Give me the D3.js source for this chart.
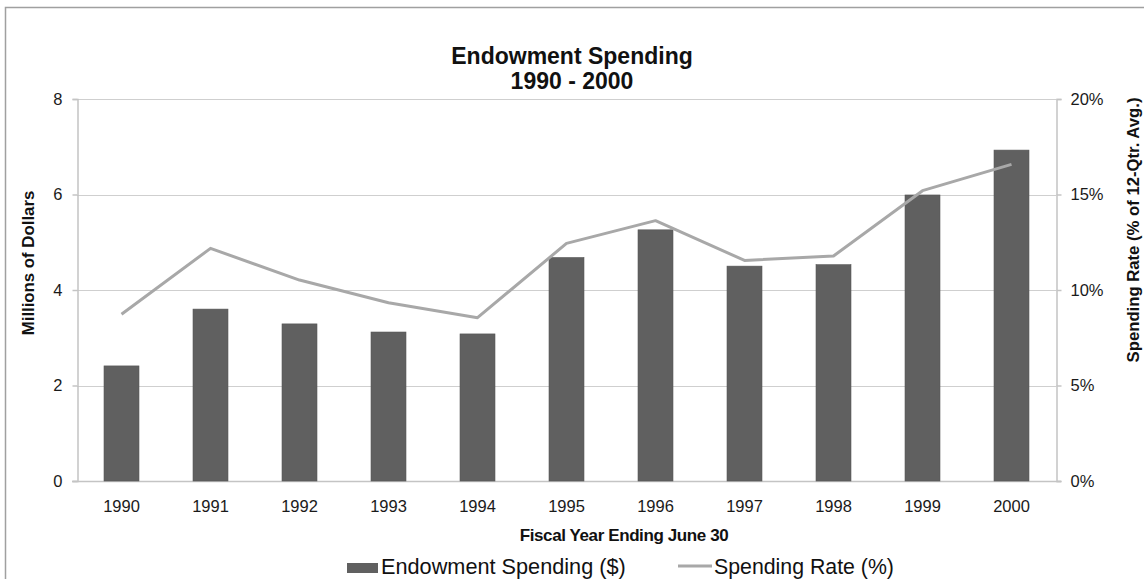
<!DOCTYPE html>
<html>
<head>
<meta charset="utf-8">
<script src="https://cdn.jsdelivr.net/npm/d3@7"></script>
<style>
  html, body { margin: 0; padding: 0; background: #fff; }
  svg { display: block; font-family: "Liberation Sans", Arial, sans-serif; }
</style>
</head>
<body>
<svg id="chart" width="1144" height="579"></svg>
<script>
const years = ["1990","1991","1992","1993","1994","1995","1996","1997","1998","1999","2000"];
const spending = [2.41, 3.60, 3.29, 3.12, 3.08, 4.68, 5.26, 4.50, 4.53, 5.99, 6.93];
const rate = [8.73, 12.18, 10.52, 9.33, 8.55, 12.44, 13.63, 11.55, 11.78, 15.2, 16.58];
const leftTicks = [0, 2, 4, 6, 8];
const rightTicks = [0, 5, 10, 15, 20];
const titleLines = ["Endowment Spending", "1990 - 2000"];

const svg = d3.select("#chart");
const m = { left: 77, right: 1056, top: 99, bottom: 481 };

// outer frame
svg.append("rect").attr("x", 5.5).attr("y", 7.5).attr("width", 1160).attr("height", 600)
  .attr("fill", "none").attr("stroke", "#a0a0a0").attr("stroke-width", 1.5);

const x = d3.scaleBand().domain(years).range([m.left, m.right]).paddingInner(0.607).paddingOuter(0.3035);
const yL = d3.scaleLinear().domain([0, 8]).range([m.bottom, m.top]);
const yR = d3.scaleLinear().domain([0, 20]).range([m.bottom, m.top]);

// gridlines
svg.append("g").selectAll("line").data(leftTicks.filter(d => d > 0)).join("line")
  .attr("x1", m.left).attr("x2", m.right)
  .attr("y1", d => Math.round(yL(d)) + 0.5).attr("y2", d => Math.round(yL(d)) + 0.5)
  .attr("stroke", "#cfcfcf").attr("stroke-width", 1);

const tickFont = 16.5;
// left axis
const axL = svg.append("g").attr("transform", `translate(${m.left + 0.5},0)`)
  .call(d3.axisLeft(yL).tickValues(leftTicks).tickSize(5).tickPadding(10).tickFormat(d3.format("d")));
// right axis
const axR = svg.append("g").attr("transform", `translate(${m.right + 0.5},0)`)
  .call(d3.axisRight(yR).tickValues(rightTicks).tickSize(5).tickPadding(9).tickFormat(d => d + "%"));
// bottom axis
const axB = svg.append("g").attr("transform", `translate(0,${m.bottom + 0.5})`)
  .call(d3.axisBottom(x).tickSize(0).tickPadding(19));
axB.select(".domain").attr("d", `M${m.left - 5},0H${m.right + 5}`);

[axL, axR, axB].forEach(a => {
  a.selectAll(".domain").attr("stroke", "#c4c4c4").attr("stroke-width", 1.5);
  a.selectAll(".tick line").attr("stroke", "#c4c4c4").attr("stroke-width", 1.5);
  a.selectAll("text").attr("font-size", tickFont).attr("fill", "#1a1a1a")
    .attr("font-family", "'Liberation Sans', Arial, sans-serif");
});

// bars
svg.append("g").selectAll("rect").data(years).join("rect")
  .attr("x", d => x(d)).attr("width", x.bandwidth())
  .attr("y", (d, i) => yL(spending[i])).attr("height", (d, i) => m.bottom - yL(spending[i]))
  .attr("fill", "#606060").attr("stroke", "#555").attr("stroke-width", 0.6);

// line
const line = d3.line().x((d, i) => x(years[i]) + x.bandwidth() / 2).y(d => yR(d));
svg.append("path").datum(rate).attr("d", line)
  .attr("fill", "none").attr("stroke", "#a8a8a8").attr("stroke-width", 3).attr("stroke-linejoin", "round");

// title
svg.append("text").attr("x", 572).attr("y", 64).attr("text-anchor", "middle")
  .attr("font-size", 23).attr("font-weight", "bold").attr("fill", "#111").text(titleLines[0]);
svg.append("text").attr("x", 572).attr("y", 89).attr("text-anchor", "middle")
  .attr("font-size", 23).attr("font-weight", "bold").attr("fill", "#111").text(titleLines[1]);

// axis titles
svg.append("text").attr("transform", "translate(34,263) rotate(-90)").attr("text-anchor", "middle")
  .attr("font-size", 16.8).attr("font-weight", "bold").attr("fill", "#111").text("Millions of Dollars");
svg.append("text").attr("transform", "translate(1139,230) rotate(-90)").attr("text-anchor", "middle")
  .attr("font-size", 16.7).attr("font-weight", "bold").attr("fill", "#111").text("Spending Rate (% of 12-Qtr. Avg.)");
svg.append("text").attr("x", 624).attr("y", 541).attr("text-anchor", "middle")
  .attr("font-size", 17).attr("font-weight", "bold").attr("fill", "#111").attr("letter-spacing", -0.4)
  .text("Fiscal Year Ending June 30");

// legend
svg.append("rect").attr("x", 347).attr("y", 563).attr("width", 31).attr("height", 10).attr("fill", "#606060");
svg.append("text").attr("x", 381).attr("y", 574).attr("font-size", 21.7).attr("fill", "#111").text("Endowment Spending ($)");
svg.append("line").attr("x1", 678).attr("x2", 712).attr("y1", 566).attr("y2", 566)
  .attr("stroke", "#a8a8a8").attr("stroke-width", 3);
svg.append("text").attr("x", 714).attr("y", 574).attr("font-size", 21.3).attr("fill", "#111").text("Spending Rate (%)");
</script>
</body>
</html>
